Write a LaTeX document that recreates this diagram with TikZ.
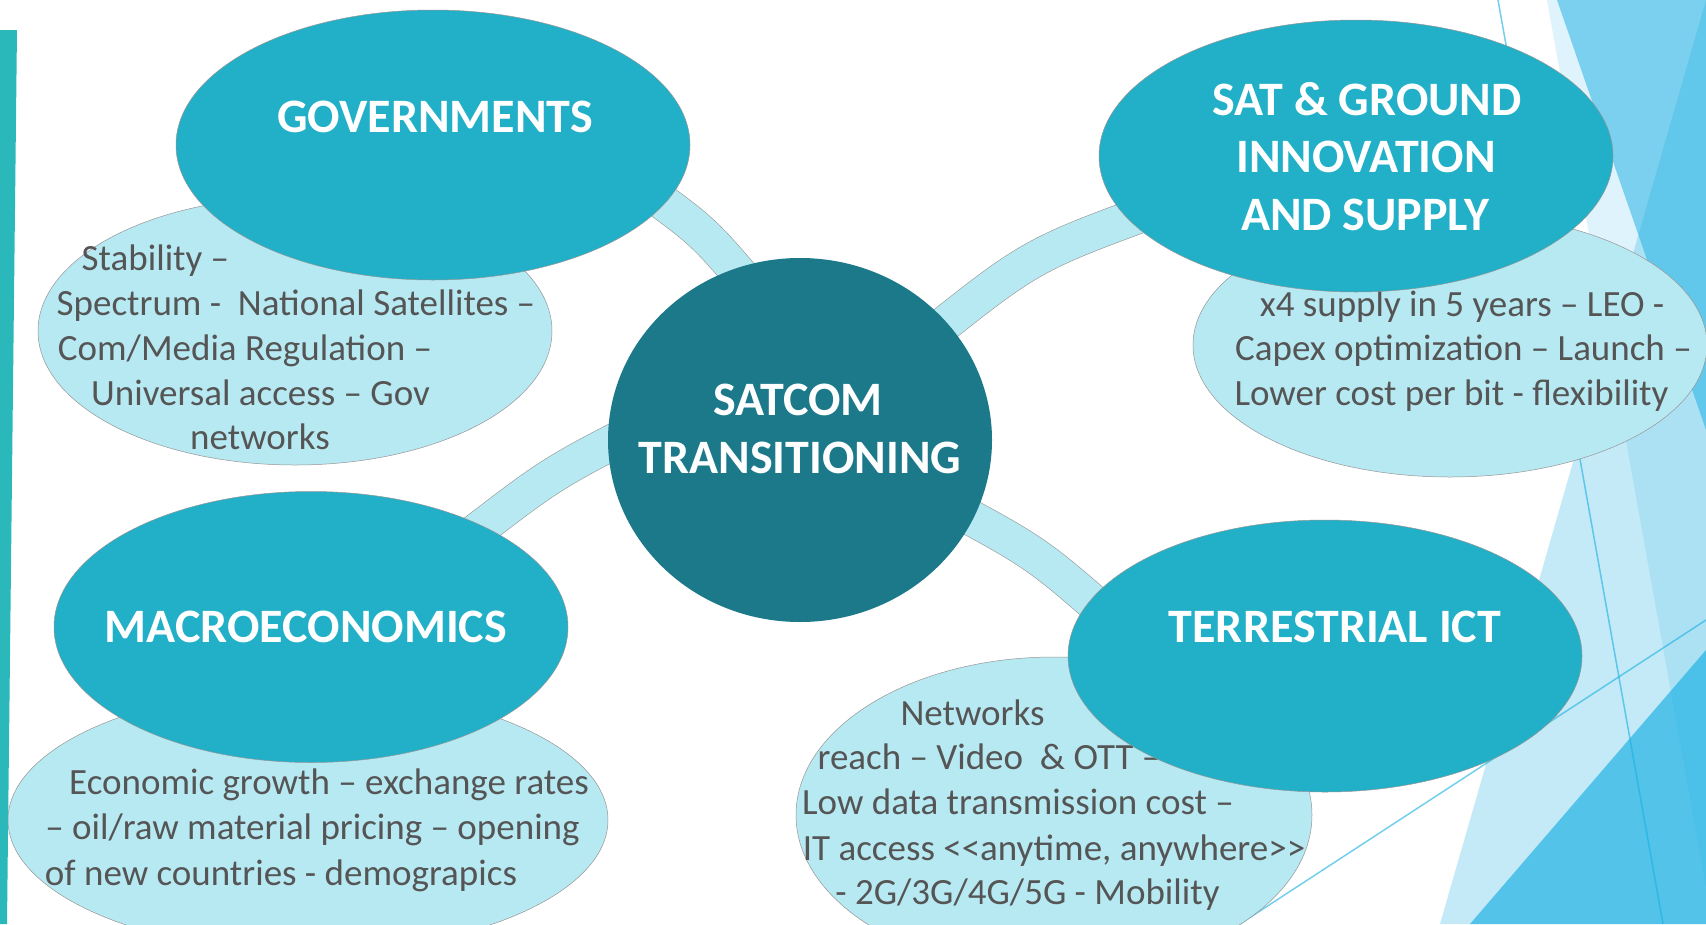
\documentclass[tikz,border=0pt]{standalone}
\usepackage{fontspec}
\setmainfont{Carlito}
\usetikzlibrary{shapes.geometric}
\definecolor{titlecol}{RGB}{33,176,199}
\definecolor{lightcol}{RGB}{183,233,243}
\definecolor{hubcol}{RGB}{27,121,138}
\definecolor{bodycol}{RGB}{85,85,85}
\definecolor{facet}{RGB}{23,175,227}
\definecolor{barcol}{RGB}{42,184,186}
\definecolor{edgecol}{RGB}{150,150,150}
\begin{document}
\begin{tikzpicture}[x=1pt,y=-1pt,
  titleell/.style={ellipse, fill=titlecol, draw=edgecol, line width=0.5pt, inner sep=0pt},
  textell/.style={ellipse, fill=lightcol, draw=edgecol, line width=0.5pt, inner sep=0pt},
  hubell/.style={ellipse, fill=hubcol, inner sep=0pt},
  ttl/.style={font=\fontsize{48}{57.5}\selectfont\bfseries, text=white, inner sep=0pt, text height=30pt, text depth=0pt},
  body/.style={font=\fontsize{37}{45}\selectfont, text=bodycol, inner sep=0pt, text height=23.4pt, text depth=0pt},
  band/.style={draw=edgecol, line width=0.6pt, double=lightcol, double distance=35pt},
  bgtri/.style={fill=facet, draw=none},
  bgline/.style={draw=facet, draw opacity=0.6, line width=1.5pt}]
\useasboundingbox (0,0) rectangle (1706,924);
\clip (0,0) rectangle (1706,924);
\fill[white] (0,0) rectangle (1706,924);
% background facets
\fill[bgtri, opacity=0.14] (1547,0) -- (1706,0) -- (1706,888) -- cycle;
\fill[bgtri, opacity=0.5] (1557,0) -- (1706,0) -- (1706,430) -- cycle;
\fill[bgtri, opacity=0.25] (1706,0) -- (1706,924) -- (1440,924) -- cycle;
\fill[bgtri, opacity=0.65] (1706,650) -- (1706,924) -- (1470,924) -- cycle;
\draw[bgline] (1498,0) -- (1663,924);
\draw[bgline] (1240,924) -- (1706,620);
\fill[barcol] (0,30) -- (17,30) -- (7,924) -- (0,924) -- cycle;
% connector bands
\coordinate (gS) at (639,185); \coordinate (gC) at (703,231); \coordinate (gE) at (754,291);
\coordinate (sS) at (922,342); \coordinate (sC) at (1031,255); \coordinate (sE) at (1162,207);
\coordinate (mS) at (465,540); \coordinate (mC) at (552,473); \coordinate (mE) at (650,423);
\coordinate (tS) at (938,500); \coordinate (tC) at (1037,553); \coordinate (tE) at (1121,627);
\draw[band] (gS) .. controls (gC) .. (gE);
\draw[band] (sS) .. controls (sC) .. (sE);
\draw[band] (mS) .. controls (mC) .. (mE);
\draw[band] (tS) .. controls (tC) .. (tE);
% text ellipses
\node[textell, minimum width=514pt, minimum height=268pt] (govtxt) at (295,331) {};
\node[textell, minimum width=514pt, minimum height=264pt] (sattxt) at (1450,345) {};
\node[textell, minimum width=600pt, minimum height=264pt] (mactxt) at (308,820) {};
\node[textell, minimum width=516pt, minimum height=316pt] (tertxt) at (1054,815) {};
% body texts
\node[body] (g1) at (155.5,259) {Stability –};
\node[body] (g2) at (296,304) {Spectrum -\ \ National Satellites –};
\node[body] (g3) at (245,349) {Com/Media Regulation –};
\node[body] (g4) at (260.5,394) {Universal access – Gov};
\node[body] (g5) at (260,438) {networks};
\node[body] (s1) at (1462,305) {x4 supply in 5 years – LEO -};
\node[body] (s2) at (1463.5,349) {Capex optimization – Launch –};
\node[body] (s3) at (1451.5,394) {Lower cost per bit - flexibility};
\node[body] (m1) at (329,783) {Economic growth – exchange rates};
\node[body] (m2) at (312.5,828) {– oil/raw material pricing – opening};
\node[body] (m3) at (281,874) {of new countries - demograpics};
\node[body] (t1) at (972.5,714) {Networks};
\node[body] (t2) at (989,758) {reach – Video\ \ \& OTT –};
\node[body] (t3) at (1018,803) {Low data transmission cost –};
\node[body] (t4) at (1054,849) {IT access <{}<anytime, anywhere>{}>};
\node[body] (t5) at (1027.5,893) {- 2G/3G/4G/5G - Mobility};
% title ellipses
\node[titleell, minimum width=514pt, minimum height=270pt] (gov) at (433,145) {};
\node[titleell, minimum width=514pt, minimum height=272pt] (sat) at (1356,156) {};
\node[titleell, minimum width=514pt, minimum height=271pt] (mac) at (311,627) {};
\node[titleell, minimum width=514pt, minimum height=272pt] (ter) at (1325,656) {};
\node[hubell, minimum width=384pt, minimum height=364pt] (hub) at (800,440) {};
% titles
\node[ttl] (govt) at (435,117.5) {GOVERNMENTS};
\node[ttl] (sat1) at (1367,100) {SAT \& GROUND};
\node[ttl] (sat2) at (1366,157.5) {INNOVATION};
\node[ttl] (sat3) at (1365,215) {AND SUPPLY};
\node[ttl] (mact) at (306,627) {MACROECONOMICS};
\node[ttl] (tert) at (1335,627) {TERRESTRIAL ICT};
\node[ttl] (hub1) at (798,400) {SATCOM};
\node[ttl] (hub2) at (800,458) {TRANSITIONING};
\end{tikzpicture}
\end{document}
